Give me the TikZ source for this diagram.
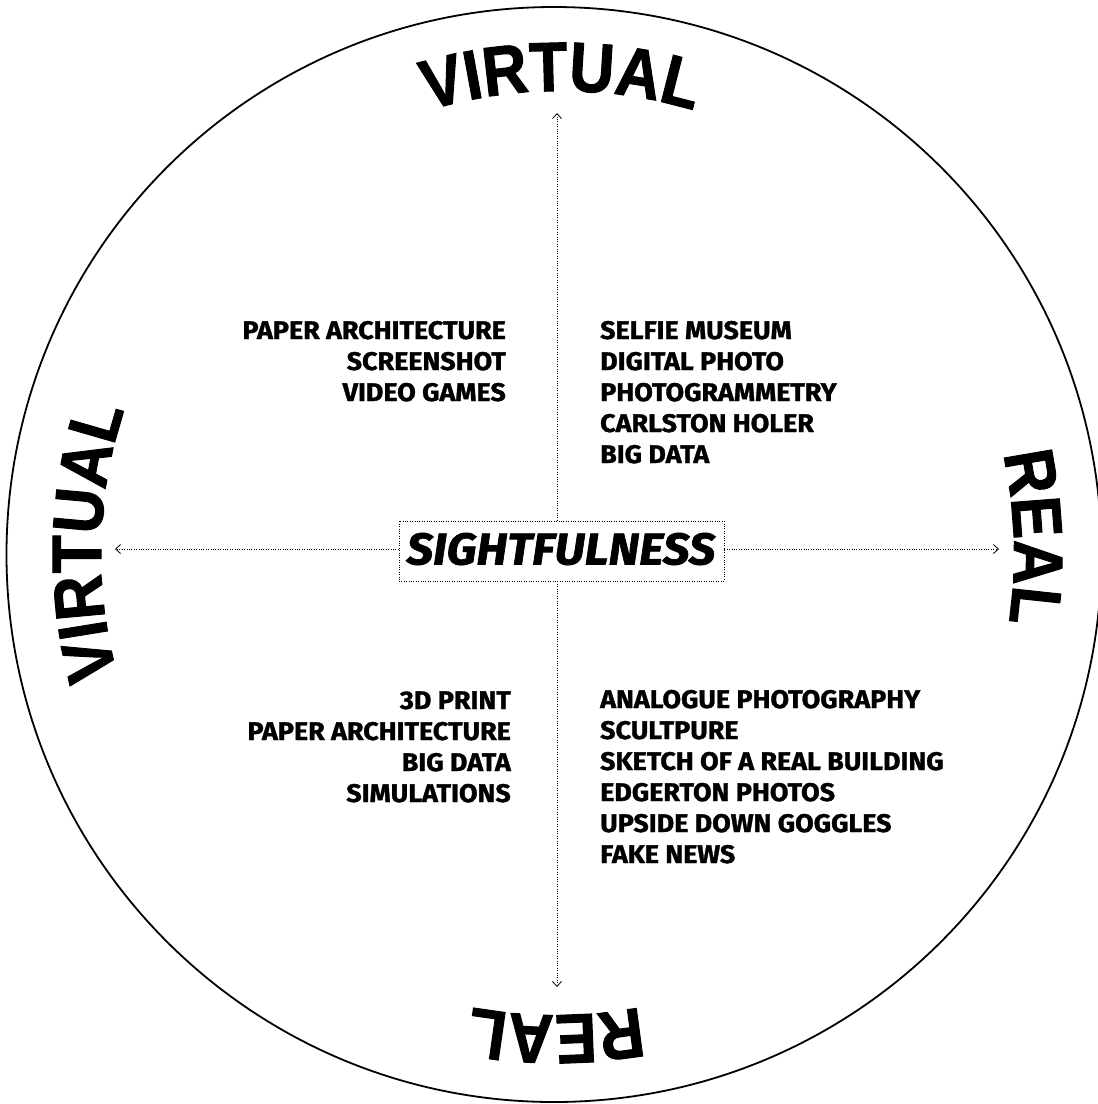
\documentclass[tikz,border=0pt]{standalone}
\usepackage{fontspec}
\usetikzlibrary{decorations.text,arrows.meta}
\newfontfamily\arcfont{Liberation Sans}[FakeStretch=0.89,BoldFeatures={FakeBold=1.4}]
\newfontfamily\bodyfont{Fira Sans}[FakeStretch=1.055,BoldFeatures={FakeBold=1.3},BoldItalicFeatures={FakeBold=1.5}]
\tikzset{
  x=1pt,y=1pt,
  dotline/.style={line width=0.8pt,dash pattern=on 0.8pt off 1.6pt},
  axisarrow/.style={dotline,-{Straight Barb[length=5pt,width=9pt,line width=0.8pt]}},
  listtext/.style={font=\bodyfont\bfseries\fontsize{25.5}{31}\selectfont,inner sep=0pt},
  arclabel/.style={decorate,decoration={text along path,text align=center,
     text={|\arcfont\bfseries\fontsize{70}{70}\selectfont|#1}}}
}
\begin{document}
\begin{tikzpicture}
\useasboundingbox (0,0) rectangle (1098,-1104);
\coordinate (c) at (554,-554.5);
\draw[line width=1.8pt] (c) circle[radius=547.5];

% curved labels
\path[arclabel=VIRTUAL] (561,-554) ++(135:463) arc[start angle=135,end angle=45,radius=463];
\path[arclabel=REAL] (554,-554) ++(47:460) arc[start angle=47,end angle=-43,radius=460];
\path[arclabel=REAL] (556,-554) ++(-45:461) arc[start angle=-45,end angle=-135,radius=461];
\path[arclabel=VIRTUAL] (554,-554) ++(223.5:453) arc[start angle=223.5,end angle=133.5,radius=453];

% centre box
\node[draw,dotline,minimum width=325pt,minimum height=60pt,inner sep=0pt] (box) at (561.5,-551) {};
\node[font=\bodyfont\bfseries\itshape\fontsize{44.5}{44.5}\selectfont,inner sep=0pt] (title) at (561,-549) {SIGHTFULNESS};

% axis ends
\coordinate (top) at (557,-113);
\coordinate (bottom) at (557,-987);
\coordinate (left) at (115,-549);
\coordinate (right) at (999,-549);
\draw[axisarrow] (box.north -| top) -- (top);
\draw[axisarrow] (box.south -| bottom) -- (bottom);
\draw[axisarrow] (box.west |- left) -- (left);
\draw[axisarrow] (box.east |- right) -- (right);

% quadrant lists (base anchor = baseline of last line)
\node[listtext,align=right,anchor=base east] (tl) at (506,-401) {PAPER ARCHITECTURE\\SCREENSHOT\\VIDEO GAMES};
\node[listtext,align=left,anchor=base west] (tr) at (600,-463) {SELFIE MUSEUM\\DIGITAL PHOTO\\PHOTOGRAMMETRY\\CARLSTON HOLER\\BIG DATA};
\node[listtext,align=right,anchor=base east] (bl) at (511,-802) {3D PRINT\\PAPER ARCHITECTURE\\BIG DATA\\SIMULATIONS};
\node[listtext,align=left,anchor=base west] (br) at (600,-863) {ANALOGUE PHOTOGRAPHY\\SCULTPURE\\SKETCH OF A REAL BUILDING\\EDGERTON PHOTOS\\UPSIDE DOWN GOGGLES\\FAKE NEWS};
\end{tikzpicture}
\end{document}
